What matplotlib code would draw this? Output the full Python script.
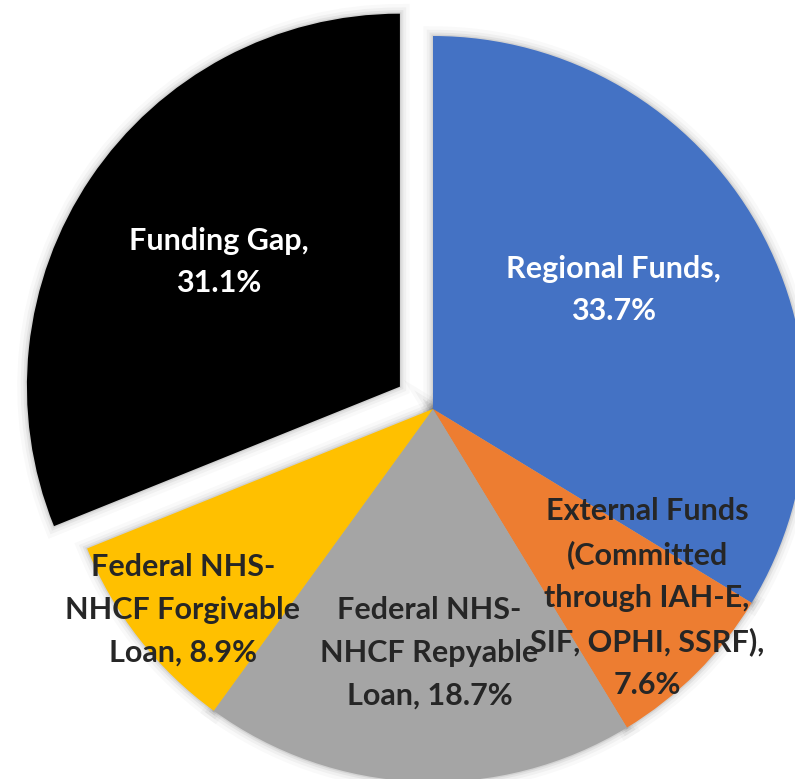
"""Funding sources pie chart (Office-style colours, exploded funding gap)."""
import matplotlib.pyplot as plt
import matplotlib.patches as mpatches
import numpy as np

# Data (clockwise from 12 o'clock)
labels = [
    "Regional Funds,\n33.7%",
    "External Funds\n(Committed\nthrough IAH-E,\nSIF, OPHI, SSRF),\n7.6%",
    "Federal NHS-\nNHCF Repyable\nLoan, 18.7%",
    "Federal NHS-\nNHCF Forgivable\nLoan, 8.9%",
    "Funding Gap,\n31.1%",
]
shares = [33.7, 7.6, 18.7, 8.9, 31.1]
colors = ["#4472C4", "#ED7D31", "#A5A5A5", "#FFC000", "#000000"]
explode = [0, 0, 0, 0, 0.107]

# label styling: text colour and (distance, angle offset) within each wedge
label_colors = ["white", "#262626", "#262626", "#262626", "white"]
label_pos = [(0.58, 4), (0.765, 3.6), (0.654, 1.5), (0.86, 0.8), (0.59, -0.5)]

W, H = 795, 779
CX, CY, R = 433, -409, 373

fig = plt.figure(figsize=(W / 100, H / 100), dpi=100)
ax = fig.add_axes([0, 0, 1, 1])

# pie() explode is in data units, so scale by radius
wedges, _ = ax.pie(
    shares, colors=colors, explode=[e * R for e in explode], startangle=90,
    counterclock=False, center=(CX, CY), radius=R,
    wedgeprops=dict(linewidth=0, zorder=2), frame=True,
)
ax.set_xlim(0, W)
ax.set_ylim(-H, 0)
ax.set_aspect("equal")
ax.axis("off")

# soft drop shadow behind the wedges
for w in wedges:
    for lw, a in [(14, 0.025), (9, 0.035), (5, 0.05), (2, 0.07)]:
        ax.add_patch(mpatches.Wedge(w.center, w.r, w.theta1, w.theta2,
                                    facecolor="none", edgecolor="black",
                                    linewidth=lw, alpha=a, zorder=1))

for w, lab, col, (d, off) in zip(wedges, labels, label_colors, label_pos):
    mid = np.deg2rad((w.theta1 + w.theta2) / 2 + off)
    cx, cy = w.center
    ax.text(cx + d * R * np.cos(mid), cy + d * R * np.sin(mid), lab,
            ha="center", va="center", color=col, fontsize=22,
            fontweight="bold", family="Lato", linespacing=1.64, zorder=3)

fig.savefig("out.png", dpi=100)
